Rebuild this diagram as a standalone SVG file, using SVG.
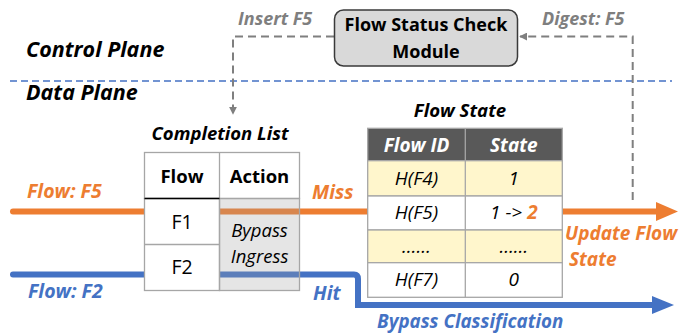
<svg xmlns="http://www.w3.org/2000/svg" width="691" height="336" viewBox="0 0 691 336">
<defs>
<style>
.t{font-family:"Open Sans","Noto Sans","Liberation Sans",sans-serif}
.bi{font-weight:bold;font-style:italic}
.b{font-weight:bold}
.i{font-style:italic}
.org{fill:#ED7D31}
.blu{fill:#4472C4}
.gry{fill:#7F7F7F}
.dash{stroke:#7F7F7F;stroke-width:2;stroke-dasharray:8 5;fill:none}
.cell{stroke:#A6A6A6;stroke-width:1.3}
.fs{font-size:19px}
</style>
<marker id="ag" viewBox="0 0 10 10" refX="9" refY="5" markerWidth="4" markerHeight="4" orient="auto"><path d="M0,0 L10,5 L0,10 z" fill="#7F7F7F"/></marker>
</defs>
<rect width="691" height="336" fill="#fff"/>

<line x1="10" y1="81" x2="672" y2="81" stroke="#4472C4" stroke-width="1.5" stroke-dasharray="7 4"/>
<text class="t bi" x="26" y="57" font-size="21.5">Control Plane</text>
<text class="t bi" x="26" y="100" font-size="21.5">Data Plane</text>

<g id="connectors">
<path class="dash" d="M334,36.5 H233 V114" marker-end="url(#ag)"/>
<path class="dash" d="M632.7,200 V36.5 H520" marker-end="url(#ag)"/>
<path d="M13,211.5 H658" stroke="#ED7D31" stroke-width="6" stroke-linecap="round" fill="none"/>
<path d="M656,202 L678,211.5 L656,221 z" fill="#ED7D31"/>
<path d="M13,274.5 H354 Q358,274.5 358,279 V305 H655" stroke="#4472C4" stroke-width="6" stroke-linecap="round" fill="none"/>
<path d="M652,296 L674,305 L652,314 z" fill="#4472C4"/>
<text class="t bi gry" x="238" y="25" font-size="18">Insert F5</text>
<text class="t bi gry" x="542" y="25" font-size="18">Digest: F5</text>
<text class="t bi org" x="27" y="198" font-size="19.5">Flow: F5</text>
<text class="t bi blu" x="28" y="298" font-size="19.5">Flow: F2</text>
<text class="t bi org" x="312" y="199" font-size="19.5">Miss</text>
<text class="t bi blu" x="313" y="300" font-size="19.5">Hit</text>
<text class="t bi org" x="565" y="240" font-size="19">Update Flow</text>
<text class="t bi org" x="569" y="266" font-size="19">State</text>
<text class="t bi blu" x="377" y="328" font-size="18.8">Bypass Classification</text>
</g>

<g id="module">
<rect x="334.5" y="10" width="183" height="56" rx="9" fill="#D9D9D9" stroke="#3A3A3A" stroke-width="1.5"/>
<text class="t b" x="426" y="31" font-size="18" text-anchor="middle">Flow Status Check</text>
<text class="t b" x="426" y="58" font-size="18" text-anchor="middle">Module</text>
</g>

<g id="completion-list">
<text class="t bi" x="220" y="140" font-size="18.5" text-anchor="middle">Completion List</text>
<rect x="144.5" y="152.5" width="155" height="46" fill="#fff" class="cell"/>
<rect x="144.5" y="198.5" width="75" height="92" fill="#fff" class="cell"/>
<rect x="219.5" y="198.5" width="80" height="92" fill="#A0A0A0" fill-opacity="0.27" class="cell"/>
<line x1="219.5" y1="152.5" x2="219.5" y2="198.5" class="cell"/>
<line x1="144.5" y1="198.5" x2="219.5" y2="198.5" stroke="#000" stroke-width="1.3"/>
<line x1="144.5" y1="244.5" x2="219.5" y2="244.5" class="cell"/>
<text class="t b" x="182" y="183" font-size="18.5" text-anchor="middle">Flow</text>
<text class="t b" x="259.5" y="183" font-size="18.5" text-anchor="middle">Action</text>
<text class="t" x="182" y="229" font-size="19.5" text-anchor="middle">F1</text>
<text class="t" x="182" y="274" font-size="19.5" text-anchor="middle">F2</text>
<text class="t i" x="259.5" y="237" font-size="18.5" text-anchor="middle">Bypass</text>
<text class="t i" x="259.5" y="263" font-size="18.5" text-anchor="middle">Ingress</text>
</g>

<g id="flow-state">
<text class="t bi" x="460" y="117" font-size="18.6" text-anchor="middle">Flow State</text>
<rect x="367.7" y="128.3" width="194.6" height="32.4" fill="#595959" class="cell"/>
<rect x="367.7" y="160.7" width="194.6" height="35.3" fill="#FFF6CC" class="cell"/>
<rect x="367.7" y="196" width="194.6" height="34" fill="#fff" class="cell"/>
<rect x="367.7" y="230" width="194.6" height="32.7" fill="#FFF6CC" class="cell"/>
<rect x="367.7" y="262.7" width="194.6" height="34.6" fill="#fff" class="cell"/>
<line x1="465.3" y1="128.3" x2="465.3" y2="297.3" class="cell"/>
<text class="t bi fs" x="416.5" y="151.5" text-anchor="middle" fill="#fff">Flow ID</text>
<text class="t bi fs" x="513.8" y="151.5" text-anchor="middle" fill="#fff">State</text>
<text class="t i fs" x="416.5" y="185" text-anchor="middle">H(F4)</text>
<text class="t i fs" x="513.8" y="185" text-anchor="middle">1</text>
<text class="t i fs" x="416.5" y="219" text-anchor="middle">H(F5)</text>
<text class="t i fs" x="513.8" y="219" text-anchor="middle">1 -&gt; <tspan class="org" font-weight="bold">2</tspan></text>
<text class="t i fs" x="416.5" y="253" text-anchor="middle">……</text>
<text class="t i fs" x="513.8" y="253" text-anchor="middle">……</text>
<text class="t i fs" x="416.5" y="286" text-anchor="middle">H(F7)</text>
<text class="t i fs" x="513.8" y="286" text-anchor="middle">0</text>
</g>
</svg>
